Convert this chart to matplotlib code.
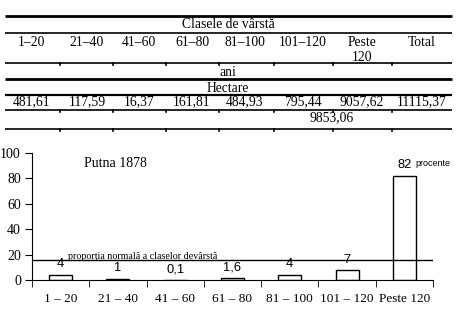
import matplotlib
matplotlib.use('Agg')
import matplotlib.pyplot as plt

# table data
age_classes = ['1–20', '21–40', '41–60', '61–80', '81–100', '101–120', 'Peste\n120', 'Total']
hectares = ['481,61', '117,59', '16,37', '161,81', '484,93', '795,44', '9057,62', '11115,37']
subtotal = '9853,06'

# chart data
categories = ['1 – 20', '21 – 40', '41 – 60', '61 – 80', '81 – 100', '101 – 120', 'Peste 120']
percent = [4, 1, 0.1, 1.6, 4, 7.5, 82]
percent_labels = ['4', '1', '0,1', '1,6', '4', '7', '82']
normal_share = 15.7

serif = 'Liberation Serif'
sans = 'Liberation Sans'

fig = plt.figure(figsize=(4.63, 3.17), dpi=100)

# --- table, drawn in pixel coordinates ---
tab = fig.add_axes([0, 0, 1, 1])
tab.set_xlim(0, 463)
tab.set_ylim(317, 0)
tab.axis('off')

col_x = [32, 87, 139, 192, 245, 303, 362, 422]
bounds = [(a + b) / 2 for a, b in zip(col_x[:-1], col_x[1:])]
x0, x1 = 5, 452

def hline(y, lw, ticks=False):
    tab.plot([x0, x1], [y, y], color='black', lw=lw, solid_capstyle='butt')
    if ticks:
        for b in bounds:
            tab.plot([b, b], [y, y + 2], color='black', lw=1.2)

hline(16, 2.0)
hline(33, 1.2)
hline(63, 1.2, ticks=True)
hline(79, 2.0)
hline(95, 1.6)
hline(110, 1.2, ticks=True)
hline(129, 1.2, ticks=True)

fs = 9.8
tab.text(228, 25, 'Clasele de vârstă', ha='center', va='center', family=serif, fontsize=fs)
for x, lab in zip(col_x, age_classes):
    tab.text(x, 36, lab, ha='center', va='top', family=serif, fontsize=fs, linespacing=1.2)
tab.text(228, 72, 'ani', ha='center', va='center', family=serif, fontsize=fs)
tab.text(228, 88, 'Hectare', ha='center', va='center', family=serif, fontsize=fs)
for x, val in zip(col_x, hectares):
    tab.text(x, 102, val, ha='center', va='center', family=serif, fontsize=fs)
tab.text(332, 118, subtotal, ha='center', va='center', family=serif, fontsize=fs)

# --- bar chart ---
ax = fig.add_axes([32 / 463, 37 / 317, 401 / 463, 127 / 317])
pos = list(range(len(categories)))
ax.bar(pos, percent, width=0.4, color='white', edgecolor='black', lw=1.0, zorder=2)
ax.set_xlim(-0.5, len(categories) - 0.5)
ax.set_ylim(0, 100)
ax.set_yticks([0, 20, 40, 60, 80, 100])
ax.spines['top'].set_visible(False)
ax.spines['right'].set_visible(False)
ax.set_xticks(pos)
ax.set_xticklabels(categories, family=serif, fontsize=9.5)
ax.tick_params(axis='x', which='major', length=0, pad=9)
ax.set_xticks([p - 0.5 for p in pos] + [len(pos) - 0.5], minor=True)
ax.tick_params(axis='x', which='minor', length=5, direction='out')
ax.tick_params(axis='y', length=5, direction='out', pad=3)
for t in ax.get_yticklabels():
    t.set_family(serif)
    t.set_fontsize(10)

ax.axhline(normal_share, color='black', lw=1.0, zorder=3)
ax.text(0.13, normal_share - 0.5, 'proporţia normală a claselor devârstă', family=serif,
        fontsize=7.2, ha='left', va='bottom')

for p, v, lab in zip(pos, percent, percent_labels):
    ax.annotate(lab, (p, v), xytext=(0, 3.5), textcoords='offset points',
                ha='center', va='bottom', family=sans, fontsize=9.3)
ax.annotate('procente', (pos[-1], percent[-1]), xytext=(8, 6), textcoords='offset points',
            ha='left', va='bottom', family=sans, fontsize=6.5, annotation_clip=False)

ax.text(0.4, 92, 'Putna 1878', family=serif, fontsize=10, ha='left', va='center')

fig.savefig('out.png', dpi=100)
